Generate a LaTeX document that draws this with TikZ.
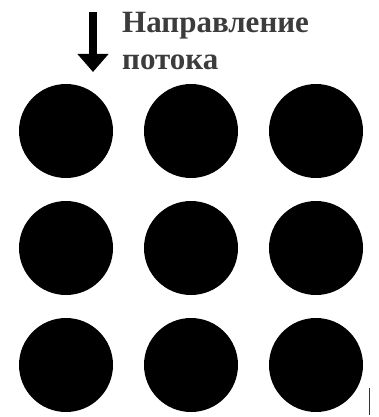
\documentclass[tikz,border=0pt]{standalone}
\usepackage{fontspec}
\setmainfont{Liberation Serif}
\usetikzlibrary{arrows.meta}
\definecolor{txtgray}{RGB}{60,60,60}
\tikzset{
  pipe/.style={circle, fill=black, minimum size=94pt, inner sep=0pt},
  lbl/.style={anchor=base west, inner sep=0pt, text=txtgray, font=\bfseries\fontsize{31pt}{36pt}\selectfont},
  flow/.style={line width=8pt, -{Triangle[width=30pt,length=18pt]}}
}
\begin{document}
\begin{tikzpicture}[x=1pt,y=-1pt]
\useasboundingbox (0,0) rectangle (379,417);
\foreach \c [count=\i] in {66,191,316}{
  \foreach \r [count=\j] in {131,248,365}{
    \node[pipe] (p\i\j) at (\c,\r) {};
  }
}
\coordinate (as) at (93,12);
\coordinate (ae) at (93,72);
\draw[flow] (as) -- (ae);
\node[lbl] (t1) at (122,33) {Направление};
\node[lbl] (t2) at (122,70) {потока};
\coordinate (m1) at (369,388);
\coordinate (m2) at (369,415);
\draw[line width=1pt, black!80] (m1) -- (m2);
\end{tikzpicture}
\end{document}
